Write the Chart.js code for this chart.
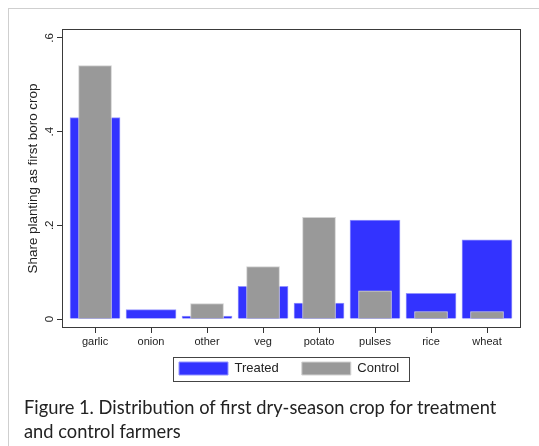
<!DOCTYPE html>
<html>
<head>
<meta charset="utf-8">
<script src="https://cdn.jsdelivr.net/npm/chart.js@4.4.1/dist/chart.umd.min.js"></script>
<style>
  html, body { margin: 0; padding: 0; background: #fff; }
  #page { position: relative; width: 539px; height: 446px; overflow: hidden; }
  #card { position: absolute; left: 8px; top: 8px; width: 540px; height: 450px;
          border-left: 1.5px solid #cfcfcf; border-top: 1.5px solid #cfcfcf; }
  #wrap { position: absolute; left: 0; top: 0; width: 539px; height: 446px; }
  #caption { position: absolute; left: 24px; top: 395px; width: 515px; white-space: nowrap; z-index: 2;
             font-family: Lato, "Open Sans", sans-serif; font-size: 18.3px; line-height: 24px; color: #222; }
</style>
</head>
<body>
<div id="page">
  <div id="card"></div>
  <div id="wrap"><canvas id="chart"></canvas></div>
  <div id="caption">Figure 1. Distribution of first dry-season crop for treatment<br>and control farmers</div>
</div>
<script>
// cultures et parts estimées à partir de la figure
const crops = ["garlic", "onion", "other", "veg", "potato", "pulses", "rice", "wheat"]
const treated = [0.430, 0.020, 0.006, 0.070, 0.034, 0.211, 0.055, 0.169]
const control = [0.541, 0, 0.033, 0.112, 0.217, 0.060, 0.016, 0.016]
const yTicks = [0, 0.2, 0.4, 0.6]

const font = "'Liberation Sans', Arial, sans-serif"

// cadre du graphique + cadre de la légende
const framePlugin = {
  id: 'frame',
  afterLayout(chart) {
    const lg = chart.legend   // on place la légende sous l'axe x
    const w = lg.width, h = lg.height
    lg.left = 179 - 23; lg.right = lg.left + w
    lg.top = 339; lg.bottom = lg.top + h
  },
  afterDatasetsDraw(chart) {
    const a = chart.chartArea
    const ctx = chart.ctx
    ctx.save()
    ctx.strokeStyle = '#3a3a3a'
    ctx.lineWidth = 1
    ctx.strokeRect(a.left + 0.5, a.top + 0.5, a.right - a.left - 1, a.bottom - a.top - 1)
    ctx.restore()
  },
  afterDraw(chart) {
    const hb = chart.legend.legendHitBoxes
    if (!hb || !hb.length) return
    const first = hb[0], last = hb[hb.length - 1]
    const x0 = first.left - 6.5, x1 = last.left + last.width + 9
    const y0 = first.top - 5, y1 = first.top + first.height + 6
    const ctx = chart.ctx
    ctx.save()
    ctx.strokeStyle = '#444'
    ctx.lineWidth = 1
    ctx.strokeRect(Math.round(x0) + 0.5, Math.round(y0) + 0.5, Math.round(x1 - x0), Math.round(y1 - y0))
    ctx.restore()
  }
}

new Chart(document.getElementById('chart'), {
  type: 'bar',
  data: {
    datasets: [{
      label: 'Treated',
      data: crops.map((c, i) => ({ x: i, y: treated[i] })),
      backgroundColor: '#3333ff',
      borderColor: '#9393ff',
      borderWidth: 1,
      barThickness: 50,
      order: 2
    }, {
      label: 'Control',
      data: crops.map((c, i) => ({ x: i, y: control[i] })),
      backgroundColor: '#999999',
      borderColor: '#d2d2d2',
      borderWidth: 1,
      barThickness: 33,
      order: 1
    }]
  },
  options: {
    responsive: true,
    maintainAspectRatio: false,
    animation: false,
    grouped: false,
    layout: { padding: { top: 29, right: 18, left: 0, bottom: 42 } },
    plugins: {
      tooltip: { enabled: false },
      legend: {
        position: 'bottom',
        align: 'start',
        labels: {
          boxWidth: 49, boxHeight: 13, padding: 23,
          color: '#222',
          font: { family: font, size: 13 },
          sort: (a, b) => a.datasetIndex - b.datasetIndex
        }
      }
    },
    scales: {
      x: {
        type: 'linear',
        offset: false,
        min: -0.59, max: 7.607,
        afterBuildTicks: s => { s.ticks = crops.map((c, i) => ({ value: i })) },
        afterFit: s => { s.height = 30; s.paddingLeft = 0; s.paddingRight = 0 },
        border: { display: false },
        grid: { offset: false, drawOnChartArea: false, tickLength: 5, color: '#333' },
        ticks: {
          callback: v => crops[v],
          autoSkip: false, maxRotation: 0,
          padding: 2, color: '#222',
          font: { family: font, size: 11 }
        }
      },
      y: {
        min: -0.0192, max: 0.619,
        afterBuildTicks: s => { s.ticks = yTicks.map(v => ({ value: v })) },
        afterFit: s => { s.width = 62; s.paddingTop = 0; s.paddingBottom = 0 },
        border: { display: false },
        grid: { drawOnChartArea: false, tickLength: 5, color: '#333' },
        title: {
          display: true,
          text: 'Share planting as first boro crop',
          color: '#222',
          font: { family: font, size: 13.4 },
          padding: { top: 25, bottom: 0 }
        },
        ticks: {
          callback: v => v === 0 ? '0' : String(v).replace('0.', '.'),
          minRotation: 90, maxRotation: 90,
          crossAlign: 'center',
          padding: 2, color: '#222',
          font: { family: font, size: 11.5 }
        }
      }
    }
  },
  plugins: [framePlugin]
})
</script>
</body>
</html>
